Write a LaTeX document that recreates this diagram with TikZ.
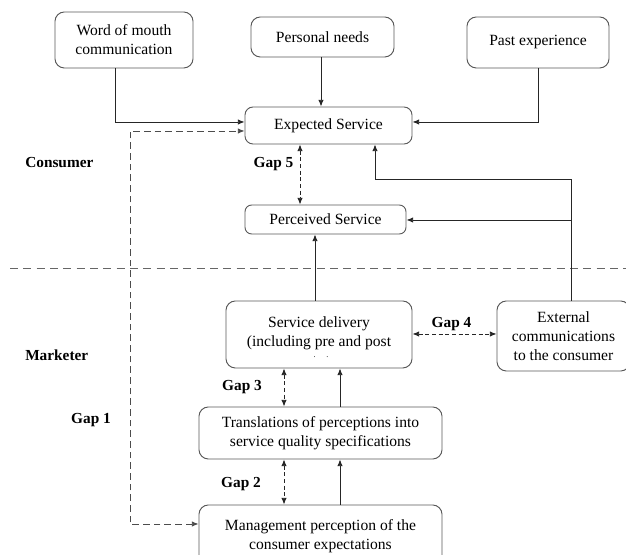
\documentclass[tikz,border=0pt]{standalone}
\usepackage{fontspec}
\setmainfont{Liberation Serif}
\usetikzlibrary{arrows.meta}
\begin{document}
\begin{tikzpicture}[x=0.75pt,y=-0.75pt,
  font=\fontsize{11.7}{14.3}\selectfont,
  box/.style={draw=black!65, line width=0.7pt, rounded corners=7pt, align=center, inner sep=0pt},
  lbl/.style={font=\fontsize{11.5}{14}\selectfont\bfseries, inner sep=0pt},
  conn/.style={draw=black!85, line width=0.6pt, -{Latex[length=5pt,width=4pt]}},
  gap/.style={draw=black!85, line width=0.6pt, dashed, dash pattern=on 3pt off 2pt, {Latex[length=5pt,width=4pt]}-{Latex[length=5pt,width=4pt]}},
  gapone/.style={draw=black!70, line width=0.6pt, dash pattern=on 5pt off 3pt, {Latex[length=5pt,width=4pt]}-{Latex[length=5pt,width=4pt]}}]
\useasboundingbox (0,0) rectangle (626,555);
\clip (0,0) rectangle (626,555);

\node[box, minimum width=103.5pt, minimum height=42pt] (wom) at (124,40) {Word of mouth\\communication};
\node[box, minimum width=107.25pt, minimum height=30pt] (pn) at (322.5,37) {Personal needs};
\node[box, minimum width=106.5pt, minimum height=38.25pt] (pe) at (538,42.5) {Past experience};
\node[box, rounded corners=6pt, minimum width=125.25pt, minimum height=27.75pt] (es) at (328.5,125.5) {Expected Service};
\node[box, rounded corners=5pt, minimum width=120.75pt, minimum height=21.75pt] (ps) at (325.5,219.5) {Perceived Service};
\node[box, minimum width=139.5pt, minimum height=50.25pt] (sd) at (319,334.5) {};
\node at (319,324) {Service delivery};
\node at (319,343) {(including pre and post};
\node[font=\fontsize{6}{6}\selectfont] at (321,357) {.\hspace{8pt}.};
\node[box, minimum width=99.75pt, minimum height=52.5pt] (ec) at (563.5,336) {External\\communications\\to the consumer};
\node[box, minimum width=182.25pt, minimum height=39pt] (tr) at (320.5,433) {Translations of perceptions into\\service quality specifications};
\node[box, minimum width=182.25pt, minimum height=46.5pt, text depth=0pt] (mp) at (320.5,536) {};
\node at (320.5,527) {Management perception of the};
\node at (320.5,546) {consumer expectations};

\node[lbl, anchor=west] (lc) at (25,163) {Consumer};
\node[lbl, anchor=west] (lm) at (25,355) {Marketer};
\node[lbl] (g5) at (273.5,164) {Gap 5};
\node[lbl] (g4) at (451.5,324) {Gap 4};
\node[lbl] (g3) at (242,387) {Gap 3};
\node[lbl] (g2) at (241,484) {Gap 2};
\node[lbl] (g1) at (91,420) {Gap 1};

\draw[draw=black!60, line width=0.7pt, dash pattern=on 6pt off 4pt] (10,268) -- (626,268);

\draw[conn] (wom.south -| 115,0) |- (es.west |- 0,122);
\draw[conn] (pn.south -| 321,0) -- (es.north -| 321,0);
\draw[conn] (pe.south -| 538,0) |- (es.east |- 0,122);
\coordinate (ecj) at (571,220);
\draw[conn] (ec.north -| 571,0) -- (571,179) -| (es.south -| 375,0);
\draw[conn] (ecj) -- (ps.east |- ecj);
\draw[conn] (sd.north -| 315,0) -- (ps.south -| 315,0);
\draw[conn] (tr.north -| 340,0) -- (sd.south -| 340,0);
\draw[conn] (mp.north -| 340,0) -- (tr.south -| 340,0);

\draw[gap] (es.south -| 300,0) -- (ps.north -| 300,0);
\draw[gap] (sd.east |- 0,334) -- (ec.west |- 0,334);
\draw[gap] (sd.south -| 284,0) -- (tr.north -| 284,0);
\draw[gap] (tr.south -| 284,0) -- (mp.north -| 284,0);
\draw[gapone] (mp.west |- 0,524) -| (130,131) -- (es.west |- 0,131);
\end{tikzpicture}
\end{document}
